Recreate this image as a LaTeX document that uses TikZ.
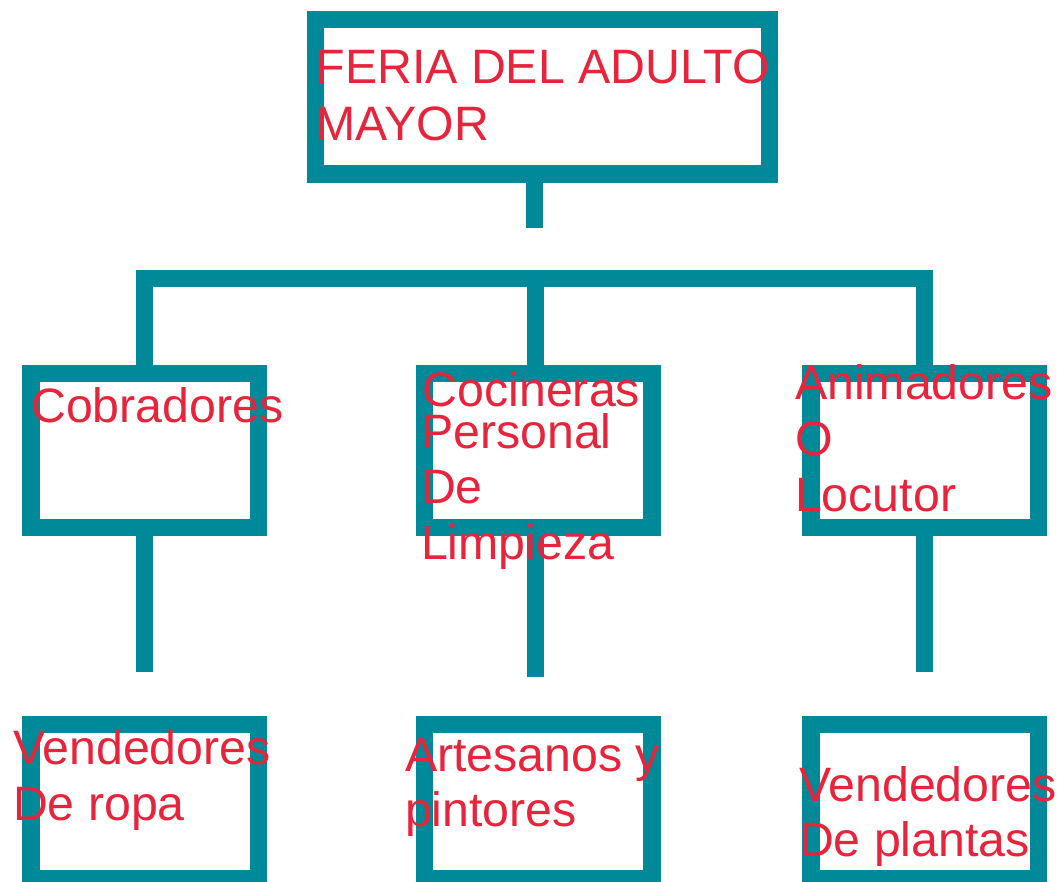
\documentclass[tikz,border=0pt]{standalone}
\usepackage{fontspec}
\setmainfont{Liberation Sans}
\definecolor{boxteal}{RGB}{0,138,153}
\definecolor{labelred}{RGB}{232,36,60}
\begin{document}
\begin{tikzpicture}[x=1pt,y=-1pt,
  box/.style={draw=boxteal, line width=17.4pt, minimum width=227.5pt, minimum height=154.5pt, inner sep=0pt, outer sep=0pt},
  link/.style={draw=boxteal, line width=17pt, line cap=butt, line join=miter},
  lbl/.style={text=labelred, font=\fontsize{48.3}{56}\selectfont, anchor=base west, inner sep=0pt, outer sep=0pt, align=left}]
\fill[white] (0,0) rectangle (1057,881);
\useasboundingbox (0,0) rectangle (1057,881);
\clip (0,0) rectangle (1057,881);
% boxes
\node[box, minimum width=454.2pt] (top) at (542.4,96.75) {};
\node[box] (b1) at (144.85,450.5) {};
\node[box] (b2) at (538.2,450.5) {};
\node[box] (b3) at (924.75,450.5) {};
\node[box] (c1) at (144.85,801.5) {};
\node[box] (c2) at (538.2,801.5) {};
\node[box] (c3) at (924.75,801.5) {};
% coordinates
\coordinate (s0) at (534.7,228);
\coordinate (bar) at (535,278.7);
\coordinate (d1) at (144.85,671.7);
\coordinate (d2) at (535,677.3);
\coordinate (d3) at (924.75,671.7);
% connectors
\draw[link] (s0 |- top.south) -- (s0);
\draw[link] (b1.north) |- (bar) -| (b3.north);
\draw[link] (bar) -- (bar |- b2.north);
\draw[link] (b1.south) -- (d1);
\draw[link] (d2 |- b2.south) -- (d2);
\draw[link] (b3.south) -- (d3);
% labels (base anchor = baseline of the last line)
\node[lbl, font=\fontsize{48.3}{56.7}\selectfont] (t0) at (315.5,140) {FERIA DEL ADULTO\\MAYOR};
\node[lbl] (t1) at (31.2,422.3) {Cobradores};
\node[lbl] (t2a) at (422.6,406.7) {Cocineras};
\node[lbl, font=\fontsize{48.3}{55.4}\selectfont] (t2b) at (421,559) {Personal\\De\\Limpieza};
\node[lbl] (t3) at (795,511.7) {Animadores\\O\\Locutor};
\node[lbl] (t4) at (13,820) {Vendedores\\De ropa};
\node[lbl, font=\fontsize{48.3}{55}\selectfont] (t5) at (405,826.7) {Artesanos y\\pintores};
\node[lbl, font=\fontsize{48.3}{55}\selectfont] (t6) at (799,856.7) {Vendedores\\De plantas};
\end{tikzpicture}
\end{document}
